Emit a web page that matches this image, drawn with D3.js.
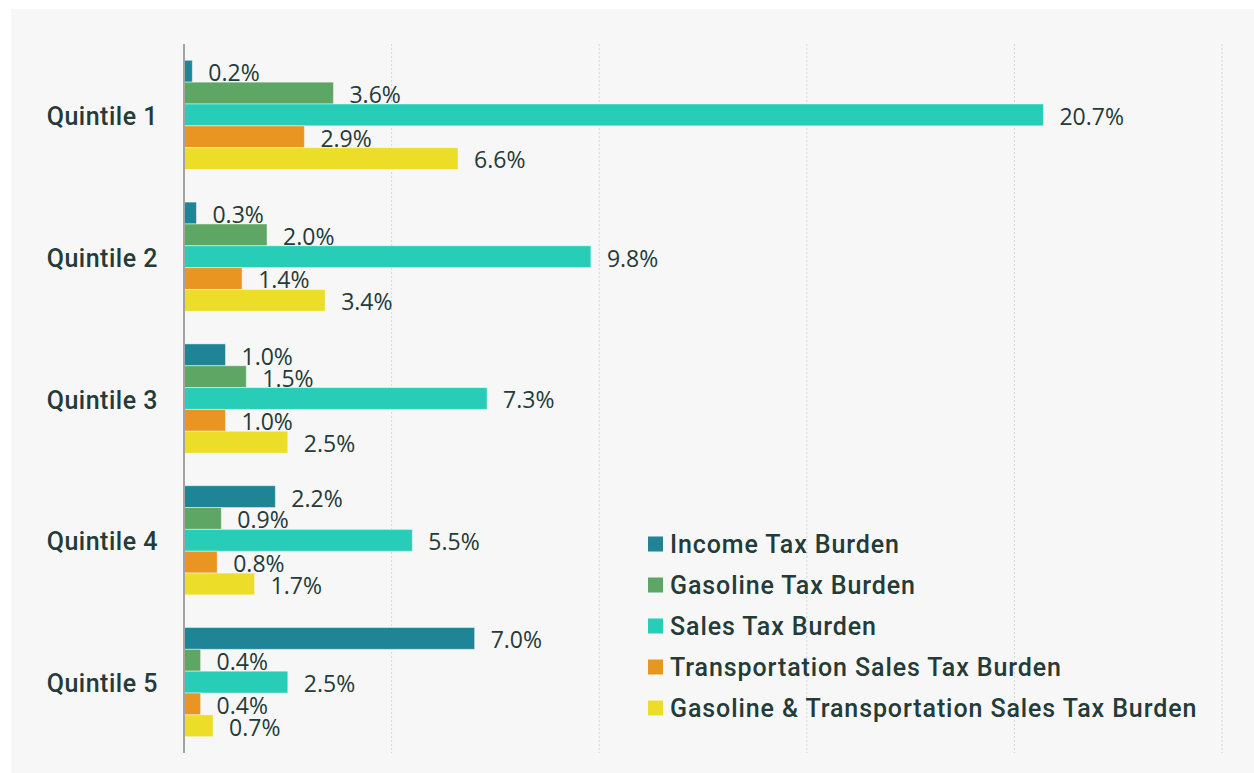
<!DOCTYPE html>
<html>
<head>
<meta charset="utf-8">
<script src="https://cdn.jsdelivr.net/npm/d3@7"></script>
<style>
  html, body { margin: 0; padding: 0; background: #ffffff; }
  svg { display: block; }
</style>
</head>
<body>
<svg id="chart" width="1254" height="773"></svg>
<script>
// Tax burden by income quintile, as a share of income (%)
const quintiles = ["Quintile 1", "Quintile 2", "Quintile 3", "Quintile 4", "Quintile 5"];
const seriesNames = [
  "Income Tax Burden",
  "Gasoline Tax Burden",
  "Sales Tax Burden",
  "Transportation Sales Tax Burden",
  "Gasoline & Transportation Sales Tax Burden"
];
const incomeTax      = [0.2, 0.3, 1.0, 2.2, 7.0];
const gasolineTax    = [3.6, 2.0, 1.5, 0.9, 0.4];
const salesTax       = [20.7, 9.8, 7.3, 5.5, 2.5];
const transportTax   = [2.9, 1.4, 1.0, 0.8, 0.4];
const gasTransportTax = [6.6, 3.4, 2.5, 1.7, 0.7];
const xTicks = [5, 10, 15, 20, 25];

const seriesValues = [incomeTax, gasolineTax, salesTax, transportTax, gasTransportTax];
const colors = ["#1f8496", "#5da664", "#27cdb7", "#e89522", "#ebdd28"];
const textColor = "#243b37";

const svg = d3.select("#chart");
const W = 1254, H = 773;

// panel background
svg.append("rect")
  .attr("x", 11).attr("y", 9)
  .attr("width", W - 11).attr("height", H - 9)
  .attr("fill", "#f7f7f7");

const plot = { left: 184, right: 1222, top: 44, bottom: 753 };

const x = d3.scaleLinear().domain([0, 25]).range([plot.left, plot.right]);
const y0 = d3.scaleBand().domain(quintiles).range([plot.top, plot.bottom])
  .paddingInner(0.23).paddingOuter(0.115);
const y1 = d3.scaleBand().domain(seriesNames).range([0, y0.bandwidth()]);

// dotted vertical gridlines
svg.append("g").selectAll("line")
  .data(xTicks)
  .join("line")
  .attr("x1", d => x(d)).attr("x2", d => x(d))
  .attr("y1", plot.top).attr("y2", plot.bottom)
  .attr("stroke", "#d4d4d4")
  .attr("stroke-width", 1)
  .attr("stroke-dasharray", "2,2");

// bars
const rows = [];
quintiles.forEach((q, qi) => {
  seriesNames.forEach((s, si) => {
    rows.push({ q, s, si, v: seriesValues[si][qi] });
  });
});

const g = svg.append("g");
g.selectAll("rect")
  .data(rows)
  .join("rect")
  .attr("x", x(0))
  .attr("y", d => y0(d.q) + y1(d.s))
  .attr("width", d => x(d.v) - x(0))
  .attr("height", y1.bandwidth())
  .attr("fill", d => colors[d.si])
  .attr("stroke", "rgba(255,255,255,0.45)")
  .attr("stroke-width", 1);

// value labels
g.selectAll("text")
  .data(rows)
  .join("text")
  .attr("x", d => x(d.v) + 16)
  .attr("y", d => y0(d.q) + y1(d.s) + y1.bandwidth() - 1)
  .attr("fill", textColor)
  .attr("font-family", "'Open Sans', 'Noto Sans', sans-serif")
  .attr("font-size", 23)
  .text(d => d.v.toFixed(1) + "%");

// category axis
const yAxis = svg.append("g")
  .attr("transform", `translate(${plot.left},0)`)
  .call(d3.axisLeft(y0).tickSize(0).tickPadding(26));
yAxis.select(".domain").remove();
yAxis.selectAll("text")
  .attr("fill", textColor)
  .attr("font-family", "Roboto, sans-serif")
  .attr("font-weight", 500)
  .attr("font-size", 25)
  .attr("letter-spacing", 0.5)
  .attr("dy", "0.4em");

svg.append("line")
  .attr("x1", plot.left).attr("x2", plot.left)
  .attr("y1", plot.top).attr("y2", plot.bottom)
  .attr("stroke", "#a3a3a3")
  .attr("stroke-width", 2);

// legend
const legend = svg.append("g").attr("transform", "translate(648,544)");
const item = legend.selectAll("g")
  .data(seriesNames)
  .join("g")
  .attr("transform", (d, i) => `translate(0,${i * 41})`);
item.append("rect")
  .attr("x", 0).attr("y", -7.5)
  .attr("width", 15).attr("height", 15)
  .attr("fill", (d, i) => colors[i]);
item.append("text")
  .attr("x", 22).attr("y", 0)
  .attr("dy", "0.36em")
  .attr("fill", textColor)
  .attr("font-family", "Roboto, sans-serif")
  .attr("font-weight", 500)
  .attr("font-size", 25)
  .attr("letter-spacing", 0.9)
  .text(d => d);
</script>
</body>
</html>
